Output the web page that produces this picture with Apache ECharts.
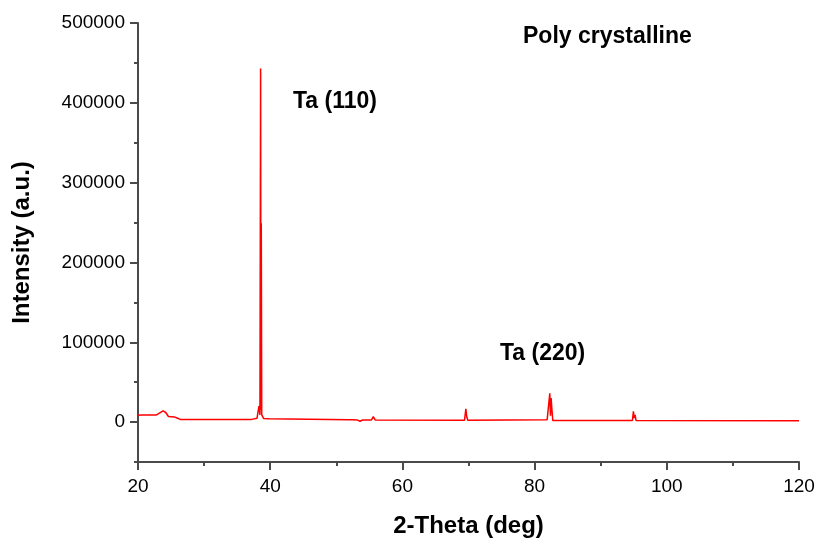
<!DOCTYPE html>
<html>
<head>
<meta charset="utf-8">
<title>XRD - Poly crystalline</title>
<script src="https://cdn.jsdelivr.net/npm/echarts@6/dist/echarts.min.js"></script>
<style>
html,body{margin:0;padding:0;background:#fff}
#chart{width:818px;height:539px}
</style>
</head>
<body>
<div id="chart"></div>
<script>
// 2-Theta (deg) and intensity (a.u.)
var twoTheta = [20.0, 20.1, 20.5, 22.8, 23.3, 23.8, 24.2, 24.6, 25.5, 26.0, 26.3, 26.4,
  34.7, 34.8, 34.9, 37.2, 37.3, 38.0, 38.3, 38.45, 38.55, 38.6, 38.65, 38.72, 39.0, 39.8, 40.1,
  52.0, 52.3, 52.5, 52.8, 53.2, 53.6, 54.0, 55.3, 55.6, 55.9,
  69.4, 69.6, 69.75, 69.9,
  81.9, 82.3, 82.4, 82.5, 82.6, 82.75,
  94.8, 94.95, 95.05, 95.2, 95.35, 120.0];
var intensity = [8500, 10500, 9000, 9000, 11500, 14000, 12000, 7000, 6500, 4800, 4800, 3400,
  3400, 4500, 3400, 3400, 4600, 4800, 20000, 9000, 443000, 15000, 249000, 9000, 4600, 4200, 3400,
  3000, 1000, 2800, 1000, 2500, 1000, 2600, 2600, 6700, 2600,
  2400, 16700, 6000, 2400,
  3000, 36000, 8000, 30000, 18000, 2000,
  2000, 13400, 5000, 9000, 2000, 1800];
var xTicks = [20, 40, 60, 80, 100, 120];
var yMajor = [0, 100000, 200000, 300000, 400000, 500000];
var yMinor = [-50000, 50000, 150000, 250000, 350000, 450000];

var pattern = twoTheta.map(function (t, i) { return [t, intensity[i]]; });

var axisColor = '#4a4a4a';
var labelFont = {color: '#000', fontSize: 19, fontFamily: 'Liberation Sans'};
var nameFont = {color: '#000', fontSize: 24, fontWeight: 'bold', fontFamily: 'Liberation Sans'};
var noteFont = {fill: '#000', fontSize: 23, fontWeight: 'bold', fontFamily: 'Liberation Sans'};

var chart = echarts.init(document.getElementById('chart'));
chart.setOption({
  animation: false,
  grid: {left: 138, right: 19, top: 23, bottom: 77, containLabel: false, outerBoundsMode: 'none'},
  xAxis: {
    type: 'value', min: xTicks[0], max: xTicks[xTicks.length - 1], interval: 20,
    name: '2-Theta (deg)', nameLocation: 'middle', nameGap: 52, nameTextStyle: nameFont,
    axisLine: {show: true, onZero: false, lineStyle: {color: axisColor, width: 2}},
    axisTick: {show: true, length: 8, lineStyle: {color: axisColor, width: 2}},
    minorTick: {show: true, splitNumber: 2, length: 4, lineStyle: {color: axisColor, width: 2}},
    axisLabel: Object.assign({margin: 15}, labelFont),
    splitLine: {show: false}
  },
  yAxis: [{
    type: 'value', min: -50000, max: 500000, interval: 50000,
    name: 'Intensity (a.u.)', nameLocation: 'middle', nameRotate: 90, nameGap: 104, nameTextStyle: nameFont,
    axisLine: {show: true, onZero: false, lineStyle: {color: axisColor, width: 2}},
    axisTick: {show: true, length: 8, customValues: yMajor, lineStyle: {color: axisColor, width: 2}},
    axisLabel: Object.assign({margin: 13, customValues: yMajor, formatter: function (v) { return String(v); }}, labelFont),
    splitLine: {show: false}
  }, {
    type: 'value', min: -50000, max: 500000, interval: 50000, position: 'left',
    axisLine: {show: false},
    axisTick: {show: true, length: 4, customValues: yMinor, lineStyle: {color: axisColor, width: 2}},
    axisLabel: {show: false},
    splitLine: {show: false}
  }],
  series: [{
    type: 'line', data: pattern, xAxisIndex: 0, yAxisIndex: 0,
    showSymbol: false, symbol: 'none',
    lineStyle: {color: '#ff0000', width: 1.5}
  }],
  graphic: [
    {type: 'text', left: 523, top: 25, style: Object.assign({text: 'Poly crystalline'}, noteFont)},
    {type: 'text', left: 293, top: 90, style: Object.assign({text: 'Ta (110)'}, noteFont)},
    {type: 'text', left: 500, top: 342, style: Object.assign({text: 'Ta (220)'}, noteFont)}
  ]
});
</script>
</body>
</html>
